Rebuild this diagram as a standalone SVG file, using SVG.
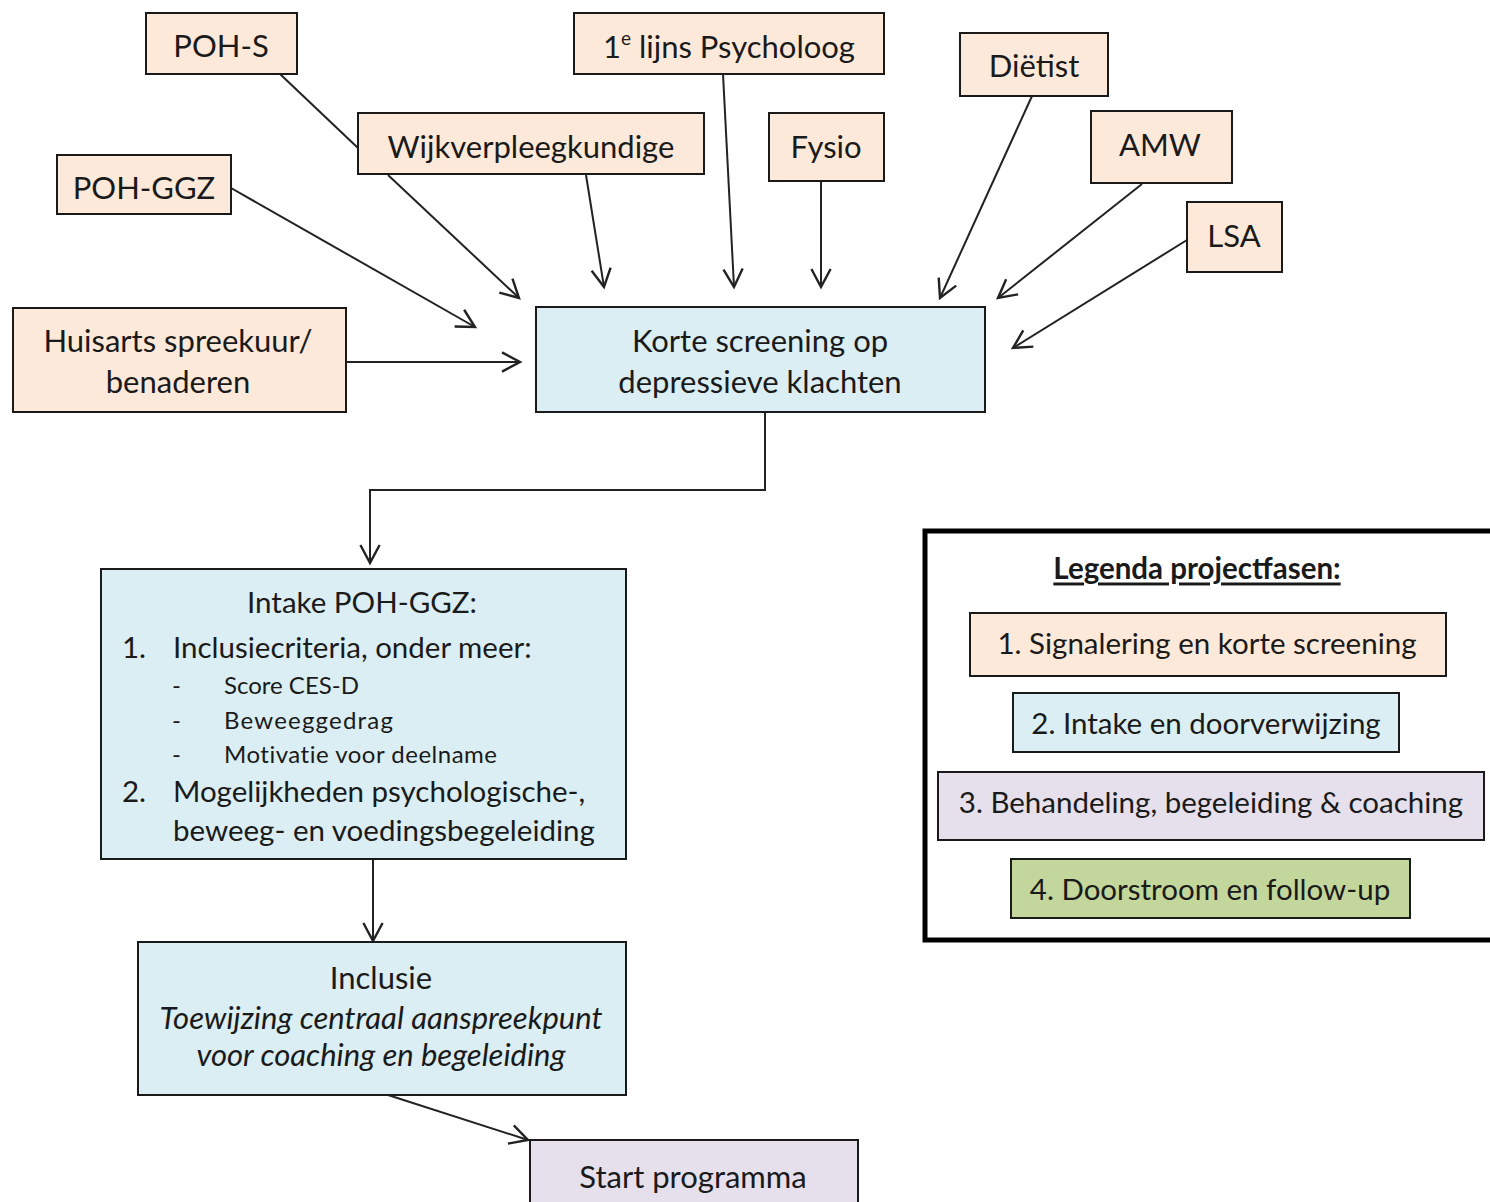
<svg xmlns="http://www.w3.org/2000/svg" width="1490" height="1202" viewBox="0 0 1490 1202">
<defs>
<style>
text{font-family:Lato,"Open Sans","Liberation Sans",sans-serif;fill:#1a1a1a;dominant-baseline:central}
.n{font-size:31px;text-anchor:middle}
.l{font-size:29.5px;text-anchor:middle}
.b{stroke:#1a1a1a;stroke-width:2}
.p1{fill:#FDE9D9}
.p2{fill:#DAEEF3}
.p3{fill:#E5E0EC}
.p4{fill:#C3D69B}
.c{fill:none;stroke:#222;stroke-width:2}
.s{font-size:24px}
.m{font-size:29.5px}
</style>
<marker id="ah" markerUnits="userSpaceOnUse" markerWidth="24" markerHeight="24" viewBox="-16 -10 20 20" refX="0" refY="0" orient="auto">
<path d="M-15,-8 L0,0 L-15,8" fill="none" stroke="#222" stroke-width="2"/>
</marker>
</defs>
<rect width="1490" height="1202" fill="#fff"/>

<g id="connectors">
<line class="c" x1="280" y1="74" x2="358" y2="148"/>
<line class="c" x1="388" y1="175" x2="519" y2="298" marker-end="url(#ah)"/>
<line class="c" x1="586" y1="175" x2="604" y2="287" marker-end="url(#ah)"/>
<line class="c" x1="231" y1="188" x2="475" y2="327" marker-end="url(#ah)"/>
<line class="c" x1="346" y1="362" x2="520" y2="362" marker-end="url(#ah)"/>
<line class="c" x1="723" y1="74" x2="734" y2="287" marker-end="url(#ah)"/>
<line class="c" x1="821" y1="181" x2="821" y2="287" marker-end="url(#ah)"/>
<line class="c" x1="1032" y1="96" x2="940" y2="298" marker-end="url(#ah)"/>
<line class="c" x1="1142" y1="184" x2="998" y2="298" marker-end="url(#ah)"/>
<line class="c" x1="1187" y1="240" x2="1013" y2="348" marker-end="url(#ah)"/>
<polyline class="c" points="765,412 765,490 370,490 370,563" marker-end="url(#ah)"/>
<line class="c" x1="373" y1="859" x2="373" y2="941" marker-end="url(#ah)"/>
<line class="c" x1="388" y1="1095" x2="528" y2="1140" marker-end="url(#ah)"/>
</g>

<g id="poh-s"><rect class="b p1" x="146" y="13" width="151" height="61"/><text class="n" x="221" y="45">POH-S</text></g>
<g id="psycholoog"><rect class="b p1" x="574" y="13" width="310" height="61"/><text class="n" x="729" y="46">1<tspan font-size="19" dy="-9">e</tspan><tspan dy="9"> lijns Psycholoog</tspan></text></g>
<g id="dietist"><rect class="b p1" x="960" y="33" width="148" height="63"/><text class="n" x="1034" y="65">Diëtist</text></g>
<g id="wijk"><rect class="b p1" x="358" y="113" width="346" height="61"/><text class="n" x="531" y="146">Wijkverpleegkundige</text></g>
<g id="fysio"><rect class="b p1" x="769" y="113" width="115" height="68"/><text class="n" x="826" y="146">Fysio</text></g>
<g id="amw"><rect class="b p1" x="1091" y="111" width="141" height="72"/><text class="n" x="1160" y="144">AMW</text></g>
<g id="lsa"><rect class="b p1" x="1187" y="202" width="95" height="70"/><text class="n" x="1234" y="235">LSA</text></g>
<g id="poh-ggz"><rect class="b p1" x="57" y="155" width="174" height="59"/><text class="n" x="144" y="187">POH-GGZ</text></g>
<g id="huisarts"><rect class="b p1" x="13" y="308" width="333" height="104"/><text class="n" x="178" y="340">Huisarts spreekuur/</text><text class="n" x="178" y="381">benaderen</text></g>
<g id="screening"><rect class="b p2" x="536" y="307" width="449" height="105"/><text class="n" x="760" y="340">Korte screening op</text><text class="n" x="760" y="381">depressieve klachten</text></g>

<g id="intake"><rect class="b p2" x="101" y="569" width="525" height="290"/>
<text class="l" x="362" y="601">Intake POH-GGZ:</text>
<text class="m" x="122" y="646">1.</text><text class="m" x="173" y="646">Inclusiecriteria, onder meer:</text>
<text class="s" x="172" y="684">-</text><text class="s" x="224" y="684">Score CES-D</text>
<text class="s" x="172" y="719">-</text><text class="s" x="224" y="719" letter-spacing="1.2">Beweeggedrag</text>
<text class="s" x="172" y="753">-</text><text class="s" x="224" y="753" letter-spacing="0.5">Motivatie  voor deelname</text>
<text class="m" x="122" y="790">2.</text><text class="m" x="173" y="790">Mogelijkheden psychologische-,</text>
<text class="m" x="173" y="829">beweeg- en voedingsbegeleiding</text>
</g>

<g id="inclusie"><rect class="b p2" x="138" y="942" width="488" height="153"/>
<text class="n" x="381" y="977">Inclusie</text>
<text class="n" x="381" y="1017" font-style="italic">Toewijzing centraal aanspreekpunt</text>
<text class="n" x="381" y="1054" font-style="italic">voor coaching en begeleiding</text>
</g>

<g id="start"><rect class="b p3" x="530" y="1140" width="328" height="80"/><text class="n" x="693" y="1176" font-size="32">Start programma</text></g>

<g id="legenda">
<rect x="925" y="531" width="580" height="409" fill="#fff" stroke="#000" stroke-width="5"/>
<text class="l" x="1197" y="567" font-weight="bold" text-decoration="underline">Legenda projectfasen:</text>
<rect class="b p1" x="970" y="613" width="476" height="63"/><text class="l" x="1207" y="642">1. Signalering en korte screening</text>
<rect class="b p2" x="1013" y="693" width="386" height="59"/><text class="l" x="1206" y="722">2. Intake en doorverwijzing</text>
<rect class="b p3" x="938" y="772" width="546" height="68"/><text class="l" x="1211" y="801">3. Behandeling, begeleiding &amp; coaching</text>
<rect class="b p4" x="1011" y="859" width="399" height="59"/><text class="l" x="1210" y="888">4. Doorstroom en follow-up</text>
</g>
</svg>
